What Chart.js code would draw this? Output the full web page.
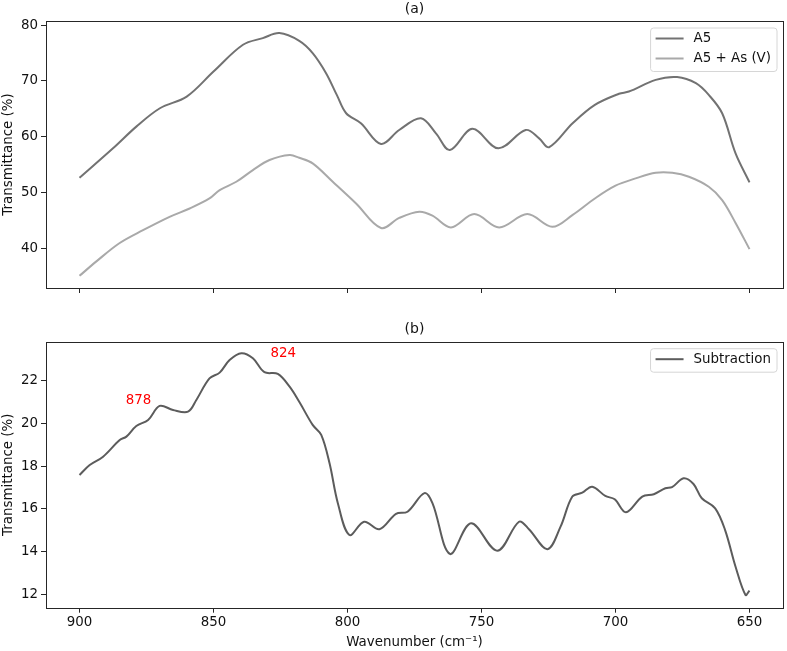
<!DOCTYPE html>
<html>
<head>
<meta charset="utf-8">
<script src="https://cdn.jsdelivr.net/npm/chart.js@4"></script>
<style>
  body { margin: 0; background: #fff; }
  #wrap { position: relative; width: 787px; height: 651px; }
  canvas { position: absolute; left: 0; }
  #top-chart { top: 0; }
  #bottom-chart { top: 300px; }
</style>
</head>
<body>
<div id="wrap">
  <canvas id="top-chart" width="787" height="300"></canvas>
  <canvas id="bottom-chart" width="787" height="351"></canvas>
</div>
<script>
// data
const wnA5 = [900, 887.5, 878.8, 870, 860, 850, 839, 831.6, 825.4, 818, 813, 808, 804, 800.5, 795, 787.5, 780.7, 772.6, 767, 761.8, 753.4, 743.7, 733.5, 728.5, 724.8, 716, 707.7, 698.7, 695, 685, 677, 670, 665.2, 660.2, 655.2, 650];
const tA5 = [52.6, 57.9, 61.8, 65.1, 67.2, 71.7, 76.5, 77.7, 78.6, 77.2, 75.0, 71.4, 67.5, 64.2, 62.4, 58.7, 61.2, 63.3, 60.6, 57.6, 61.4, 57.9, 61.2, 59.7, 58.1, 62.4, 65.7, 67.7, 68.1, 70.2, 70.7, 69.6, 67.5, 64.2, 57.0, 51.8];

const wnAs = [900, 893.7, 885, 876.3, 866.4, 858.9, 851.5, 847.7, 841.5, 835.3, 829.1, 821.6, 818, 813, 805.5, 796.8, 787.5, 780.7, 773.2, 768.3, 761.4, 752.7, 743.4, 732.9, 723.6, 716.1, 707.7, 700, 692.5, 685, 678.8, 672.6, 665.2, 660.2, 655.2, 650];
const tAs = [35.0, 37.6, 40.9, 43.2, 45.6, 47.1, 48.9, 50.4, 51.9, 54.0, 55.8, 56.7, 56.2, 55.2, 51.9, 48.0, 43.6, 45.4, 46.5, 45.8, 43.7, 46.1, 43.7, 46.1, 43.8, 45.9, 48.9, 51.2, 52.5, 53.5, 53.5, 52.8, 51.0, 48.6, 44.5, 39.8];

const wnSub = [900, 896.2, 891.2, 885, 882.5, 878.8, 874.4, 870.1, 865.1, 859.5, 856.4, 851.5, 847.7, 844, 839.6, 835.3, 831, 826, 821.6, 817.9, 813, 809.8, 806.7, 803.6, 799.3, 793.8, 788.1, 781.9, 777.6, 771.3, 768.3, 761.8, 753.9, 744.1, 736, 732.3, 725.4, 720.5, 716.1, 712.4, 708.7, 703.8, 700.3, 696.1, 690, 685.7, 681.4, 678.9, 674.6, 670.9, 667.8, 662.8, 659.1, 655.2, 651.5, 650];
const tSub = [17.59, 18.06, 18.45, 19.23, 19.39, 19.89, 20.17, 20.83, 20.64, 20.56, 21.11, 22.12, 22.39, 22.98, 23.30, 23.06, 22.41, 22.33, 21.73, 21.0, 19.94, 19.47, 18.14, 16.27, 14.78, 15.40, 15.05, 15.77, 15.87, 16.74, 16.27, 13.89, 15.33, 14.04, 15.40, 15.05, 14.11, 15.17, 16.58, 16.76, 17.04, 16.61, 16.45, 15.84, 16.58, 16.69, 16.97, 17.02, 17.44, 17.17, 16.50, 16.03, 15.01, 13.29, 11.97, 12.17];

const xTicks = [650, 700, 750, 800, 850, 900];
const yTicksTop = [40, 50, 60, 70, 80];
const yTicksBottom = [12, 14, 16, 18, 20, 22];

const peakLabels = ["878", "824"];
const peakX = [878, 824];
const peakY = [21.1, 23.27];

const FONT = "'DejaVu Sans', sans-serif";
const FONT_SIZE = 13.4;
const TEXT_COLOR = "#111";

function toPoints(xs, ys) {
  return xs.map((x, i) => ({ x: x, y: ys[i] }));
}

function lineDataset(label, xs, ys, color) {
  return {
    label: label,
    data: toPoints(xs, ys),
    borderColor: color,
    borderWidth: 2,
    pointRadius: 0,
    fill: false,
    tension: 0.35,
  };
}

// frame, panel title, legend and red notes drawn on the canvas
function decorPlugin(title, legendItems, notes) {
  return {
    id: "decor",
    afterDraw(chart) {
      const ctx = chart.ctx;
      const a = chart.chartArea;
      ctx.save();
      ctx.strokeStyle = "#262626";
      ctx.lineWidth = 1;
      ctx.strokeRect(Math.round(a.left) + 0.5, Math.round(a.top) + 0.5,
        Math.round(a.right - a.left), Math.round(a.bottom - a.top));

      ctx.font = `14px ${FONT}`;
      ctx.fillStyle = TEXT_COLOR;
      ctx.textAlign = "center";
      ctx.textBaseline = "middle";
      ctx.fillText(title, (a.left + a.right) / 2, a.top - 12);

      ctx.font = `${FONT_SIZE}px ${FONT}`;
      const widest = Math.max(...legendItems.map((it) => ctx.measureText(it.text).width));
      const boxW = 5 + 28 + 10 + widest + 6;
      const boxH = legendItems.length * 20 + 3.5;
      const bx = a.right - 6 - boxW;
      const by = a.top + 7;
      ctx.beginPath();
      const r = 3;
      ctx.moveTo(bx + r, by);
      ctx.arcTo(bx + boxW, by, bx + boxW, by + boxH, r);
      ctx.arcTo(bx + boxW, by + boxH, bx, by + boxH, r);
      ctx.arcTo(bx, by + boxH, bx, by, r);
      ctx.arcTo(bx, by, bx + boxW, by, r);
      ctx.closePath();
      ctx.fillStyle = "rgba(255,255,255,0.8)";
      ctx.fill();
      ctx.strokeStyle = "#d6d6d6";
      ctx.stroke();
      legendItems.forEach((it, i) => {
        const cy = by + 10.5 + i * 20;
        ctx.strokeStyle = it.color;
        ctx.lineWidth = 2;
        ctx.beginPath();
        ctx.moveTo(bx + 5, cy);
        ctx.lineTo(bx + 33, cy);
        ctx.stroke();
        ctx.fillStyle = TEXT_COLOR;
        ctx.textAlign = "left";
        ctx.fillText(it.text, bx + 43, cy);
      });

      const xs = chart.scales.x;
      const ys = chart.scales.y;
      ctx.fillStyle = "#ff0000";
      ctx.textAlign = "center";
      notes.forEach((n) => {
        ctx.fillText(n.text, xs.getPixelForValue(n.x), ys.getPixelForValue(n.y));
      });
      ctx.restore();
    },
  };
}

function fixedTicks(values) {
  return (scale) => {
    scale.ticks = values.map((v) => ({ value: v }));
  };
}

function xScale(showLabels, height) {
  return {
    type: "linear",
    reverse: true,
    min: 637.5,
    max: 912.5,
    afterBuildTicks: fixedTicks(xTicks),
    afterFit: (scale) => {
      scale.height = height;
    },
    grid: {
      drawOnChartArea: false,
      drawTicks: true,
      tickLength: 5,
      color: "#262626",
    },
    border: { display: false },
    ticks: {
      color: TEXT_COLOR,
      font: { family: FONT, size: FONT_SIZE },
      padding: 2,
      maxRotation: 0,
      callback: (v) => (showLabels ? String(v) : ""),
    },
    title: {
      display: showLabels,
      text: "Wavenumber (cm\u207b\u00b9)",
      color: TEXT_COLOR,
      font: { family: FONT, size: FONT_SIZE },
      padding: { top: 0, bottom: 0 },
    },
  };
}

function yScale(min, max, ticks) {
  return {
    type: "linear",
    min: min,
    max: max,
    afterBuildTicks: fixedTicks(ticks),
    afterFit: (scale) => {
      scale.width = 46;
    },
    grid: {
      drawOnChartArea: false,
      drawTicks: true,
      tickLength: 5,
      color: "#262626",
    },
    border: { display: false },
    ticks: {
      color: TEXT_COLOR,
      font: { family: FONT, size: FONT_SIZE },
      padding: 3,
    },
    title: {
      display: true,
      text: "Transmittance (%)",
      color: TEXT_COLOR,
      font: { family: FONT, size: FONT_SIZE },
      padding: { top: 0, bottom: 0 },
    },
  };
}

function baseOptions(padTop, xs, ys) {
  return {
    responsive: false,
    animation: false,
    devicePixelRatio: 1,
    layout: { padding: { top: padTop, right: 4, left: 0, bottom: 0 } },
    plugins: { legend: { display: false }, tooltip: { enabled: false } },
    scales: { x: xs, y: ys },
  };
}

const colA5 = "#727272";
const colAs = "#a9a9a9";
const colSub = "#5c5c5c";

new Chart(document.getElementById("top-chart"), {
  type: "line",
  data: {
    datasets: [
      lineDataset("A5", wnA5, tA5, colA5),
      lineDataset("A5 + As (V)", wnAs, tAs, colAs),
    ],
  },
  options: baseOptions(21, xScale(false, 12), yScale(32.82, 80.77, yTicksTop)),
  plugins: [
    decorPlugin("(a)", [
      { text: "A5", color: colA5 },
      { text: "A5 + As (V)", color: colAs },
    ], []),
  ],
});

new Chart(document.getElementById("bottom-chart"), {
  type: "line",
  data: {
    datasets: [lineDataset("Subtraction", wnSub, tSub, colSub)],
  },
  options: baseOptions(41.7, xScale(true, 43.3), yScale(11.37, 23.84, yTicksBottom)),
  plugins: [
    decorPlugin("(b)", [{ text: "Subtraction", color: colSub }],
      peakLabels.map((t, i) => ({ text: t, x: peakX[i], y: peakY[i] }))),
  ],
});
</script>
</body>
</html>
